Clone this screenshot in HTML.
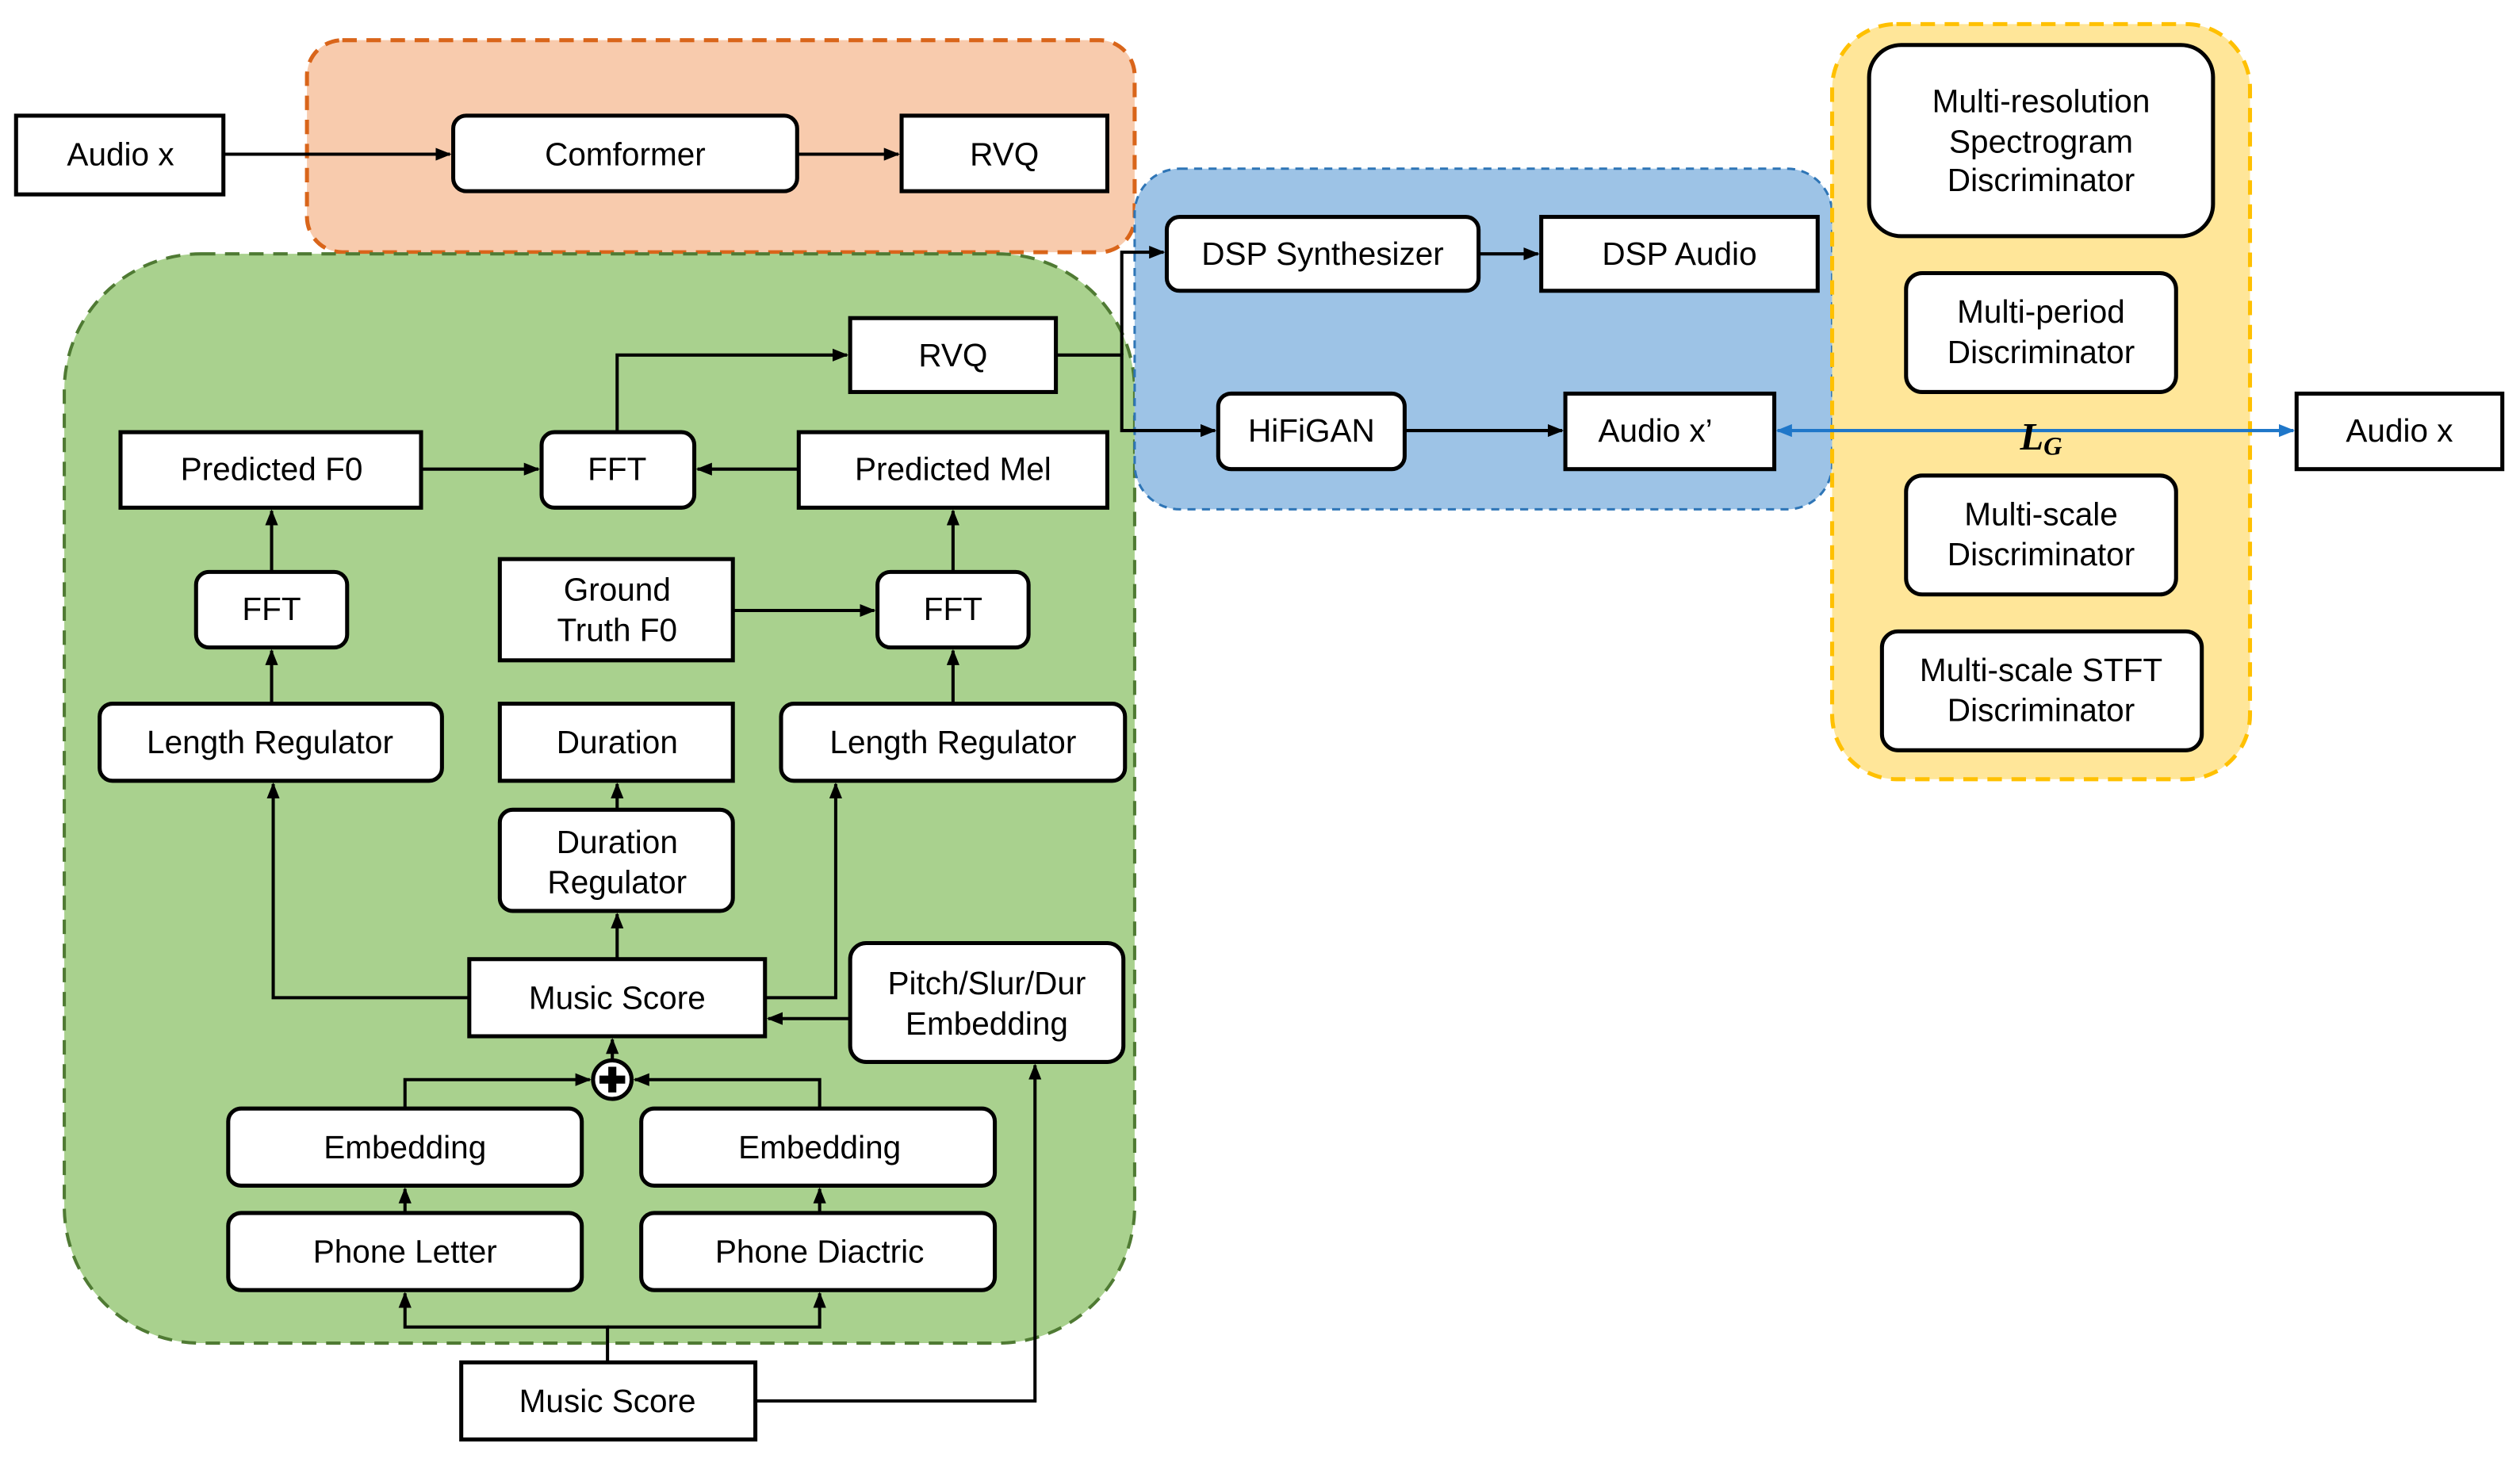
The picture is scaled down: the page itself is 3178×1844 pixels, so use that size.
<!DOCTYPE html>
<html><head><meta charset="utf-8"><style>
html,body{margin:0;padding:0;background:#fff;}
svg{display:block;}
text{font-family:"Liberation Sans","DejaVu Sans",sans-serif;font-size:20px;fill:#000;text-anchor:middle;dominant-baseline:central;}
.b{fill:#fff;stroke:#000;stroke-width:2.5;}
.l{fill:none;stroke:#000;stroke-width:2;}
</style></head><body>
<svg width="3178" height="1844" viewBox="0 0 1568 910" preserveAspectRatio="none" xmlns="http://www.w3.org/2000/svg">
<defs>
<marker id="a" markerWidth="10" markerHeight="8" refX="9" refY="4" orient="auto" markerUnits="userSpaceOnUse"><path d="M0,0 L10,4 L0,8 z" fill="#000"/></marker>
<marker id="ab" markerWidth="10" markerHeight="8" refX="9" refY="4" orient="auto-start-reverse" markerUnits="userSpaceOnUse"><path d="M0,0 L10,4 L0,8 z" fill="#1f77c9"/></marker>
</defs>
<!-- regions -->
<rect x="191" y="25" width="515" height="132" rx="22" fill="#f8cbad" stroke="#d9651a" stroke-width="2.5" stroke-dasharray="9,6"/>
<rect x="40" y="158" width="666" height="678" rx="85" fill="#a9d18e" stroke="#4f7a33" stroke-width="2" stroke-dasharray="9,6"/>
<rect x="706" y="105" width="434" height="212" rx="28" fill="#9dc3e6" stroke="#2e75b6" stroke-width="1.5" stroke-dasharray="5,4"/>
<rect x="1140" y="15" width="260" height="470" rx="40" fill="#ffe699" stroke="#ffc000" stroke-width="2.5" stroke-dasharray="9,6"/>

<!-- connectors -->
<path class="l" d="M139,96 H280" marker-end="url(#a)"/>
<path class="l" d="M496,96 H559" marker-end="url(#a)"/>
<path class="l" d="M657,221 H698 V268 H756" marker-end="url(#a)"/>
<path class="l" d="M698,221 V157 H724" marker-end="url(#a)"/>
<path class="l" d="M920,158 H957" marker-end="url(#a)"/>
<path class="l" d="M874,268 H972" marker-end="url(#a)"/>
<path d="M1106,268 H1427" fill="none" stroke="#1f77c9" stroke-width="2" marker-start="url(#ab)" marker-end="url(#ab)"/>
<text x="1270" y="272" style="font-family:'Liberation Serif',serif;font-style:italic;font-weight:bold;font-size:24px">L<tspan font-size="16" dy="6">G</tspan></text>
<path class="l" d="M262,292 H335" marker-end="url(#a)"/>
<path class="l" d="M497,292 H434" marker-end="url(#a)"/>
<path class="l" d="M384,269 V221 H527" marker-end="url(#a)"/>
<path class="l" d="M169,356 V318" marker-end="url(#a)"/>
<path class="l" d="M169,438 V405" marker-end="url(#a)"/>
<path class="l" d="M456,380 H544" marker-end="url(#a)"/>
<path class="l" d="M593,356 V318" marker-end="url(#a)"/>
<path class="l" d="M593,438 V405" marker-end="url(#a)"/>
<path class="l" d="M384,504 V488" marker-end="url(#a)"/>
<path class="l" d="M384,597 V569" marker-end="url(#a)"/>
<path class="l" d="M292,621 H170 V488" marker-end="url(#a)"/>
<path class="l" d="M476,621 H520 V488" marker-end="url(#a)"/>
<path class="l" d="M529,634 H478" marker-end="url(#a)"/>
<path class="l" d="M381,660 V647" marker-end="url(#a)"/>
<path class="l" d="M252,690 V672 H367" marker-end="url(#a)"/>
<path class="l" d="M510,690 V672 H395" marker-end="url(#a)"/>
<path class="l" d="M252,755 V740" marker-end="url(#a)"/>
<path class="l" d="M510,755 V740" marker-end="url(#a)"/>
<path class="l" d="M378,848 V826 H252 V805" marker-end="url(#a)"/>
<path class="l" d="M378,826 H510 V805" marker-end="url(#a)"/>
<path class="l" d="M470,872 H644 V663" marker-end="url(#a)"/>
<circle cx="381" cy="672" r="12" fill="#fff" stroke="#000" stroke-width="2.5"/>
<path d="M381,664 V680 M373,672 H389" stroke="#000" stroke-width="5"/>

<!-- boxes -->
<rect class="b" x="10" y="72" width="129" height="49"/><text x="75" y="96">Audio x</text>
<rect class="b" x="282" y="72" width="214" height="47" rx="8"/><text x="389" y="96">Comformer</text>
<rect class="b" x="561" y="72" width="128" height="47"/><text x="625" y="96">RVQ</text>
<rect class="b" x="726" y="135" width="194" height="46" rx="8"/><text x="823" y="158">DSP Synthesizer</text>
<rect class="b" x="959" y="135" width="172" height="46"/><text x="1045" y="158">DSP Audio</text>
<rect class="b" x="758" y="245" width="116" height="47" rx="8"/><text x="816" y="268">HiFiGAN</text>
<rect class="b" x="974" y="245" width="130" height="47"/><text x="1030" y="268">Audio x’</text>
<rect class="b" x="1429" y="245" width="128" height="47"/><text x="1493" y="268">Audio x</text>
<rect class="b" x="529" y="198" width="128" height="46"/><text x="593" y="221">RVQ</text>
<rect class="b" x="75" y="269" width="187" height="47"/><text x="169" y="292">Predicted F0</text>
<rect class="b" x="337" y="269" width="95" height="47" rx="8"/><text x="384" y="292">FFT</text>
<rect class="b" x="497" y="269" width="192" height="47"/><text x="593" y="292">Predicted Mel</text>
<rect class="b" x="122" y="356" width="94" height="47" rx="8"/><text x="169" y="379">FFT</text>
<rect class="b" x="311" y="348" width="145" height="63"/><text x="384" y="367">Ground</text><text x="384" y="392">Truth F0</text>
<rect class="b" x="546" y="356" width="94" height="47" rx="8"/><text x="593" y="379">FFT</text>
<rect class="b" x="62" y="438" width="213" height="48" rx="8"/><text x="168" y="462">Length Regulator</text>
<rect class="b" x="311" y="438" width="145" height="48"/><text x="384" y="462">Duration</text>
<rect class="b" x="486" y="438" width="214" height="48" rx="8"/><text x="593" y="462">Length Regulator</text>
<rect class="b" x="311" y="504" width="145" height="63" rx="8"/><text x="384" y="524">Duration</text><text x="384" y="549">Regulator</text>
<rect class="b" x="292" y="597" width="184" height="48"/><text x="384" y="621">Music Score</text>
<rect class="b" x="529" y="587" width="170" height="74" rx="10"/><text x="614" y="612">Pitch/Slur/Dur</text><text x="614" y="637">Embedding</text>
<rect class="b" x="142" y="690" width="220" height="48" rx="8"/><text x="252" y="714">Embedding</text>
<rect class="b" x="399" y="690" width="220" height="48" rx="8"/><text x="510" y="714">Embedding</text>
<rect class="b" x="142" y="755" width="220" height="48" rx="8"/><text x="252" y="779">Phone Letter</text>
<rect class="b" x="399" y="755" width="220" height="48" rx="8"/><text x="510" y="779">Phone Diactric</text>
<rect class="b" x="287" y="848" width="183" height="48"/><text x="378" y="872">Music Score</text>
<rect class="b" x="1163" y="28" width="214" height="119" rx="20"/><text x="1270" y="63">Multi-resolution</text><text x="1270" y="88">Spectrogram</text><text x="1270" y="112">Discriminator</text>
<rect class="b" x="1186" y="170" width="168" height="74" rx="10"/><text x="1270" y="194">Multi-period</text><text x="1270" y="219">Discriminator</text>
<rect class="b" x="1186" y="296" width="168" height="74" rx="10"/><text x="1270" y="320">Multi-scale</text><text x="1270" y="345">Discriminator</text>
<rect class="b" x="1171" y="393" width="199" height="74" rx="10"/><text x="1270" y="417">Multi-scale STFT</text><text x="1270" y="442">Discriminator</text>
</svg>
</body></html>
